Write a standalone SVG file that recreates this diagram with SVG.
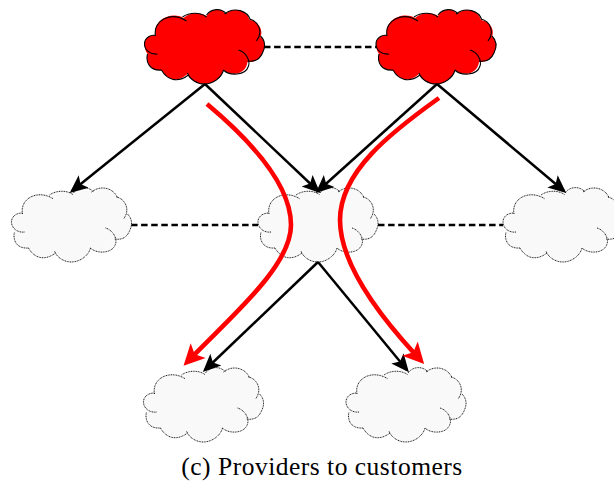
<svg xmlns="http://www.w3.org/2000/svg" xmlns:xlink="http://www.w3.org/1999/xlink" width="614" height="484" viewBox="0 0 614 484">
<style>
.edge{fill:none;stroke:#000;stroke-width:2.5}
.dash{fill:none;stroke:#000;stroke-width:2.5;stroke-dasharray:6.5 3.6}
.flow{fill:none;stroke:#f00;stroke-width:4.6}
.fillred{fill:#f00;stroke:none}
.fillgray{fill:#f9f9f9;stroke:none}
.linered{fill:none;stroke:#000;stroke-width:1.1}
.linegray{fill:none;stroke:#000;stroke-width:.9;stroke-dasharray:1 .7}
text{font-family:"Liberation Serif","Times New Roman",serif;font-size:25.5px;letter-spacing:.5px;fill:#000}
</style>
<defs>
<path id="outline" d="M-60,-3C-60,-8 -56,-12 -49,-12C-52,-27 -33,-36 -21,-29C-15,-35 -4,-35 2,-31C7,-39 17,-39 21,-33C30,-41 43,-36 45,-27C54,-26 59,-17 56,-10C61,-6 61,0 58,6C55,13 50,15 43,15C41,29 25,29 19,23C17,31 8,37 0,37C-8,37 -15,32 -17,27C-28,37 -38,32 -43,23C-55,24 -59,15 -57,7C-59,4 -60,1 -60,-3Z"/>
<path id="curls" d="M-47,7C-54,8 -60,3 -60,-3C-60,-8 -56,-12 -49,-12M-49,-11C-52,-27 -33,-36 -18,-26M-22,-30C-15,-35 -4,-35 2,-30M2,-32C7,-39 17,-39 22,-33M20,-33C30,-41 43,-36 46,-27M45,-28C54,-26 59,-15 52,-6M56,-11C61,-6 61,0 58,6C55,13 50,15 43,14M34,3C41,5 46,13 44,19C41,29 25,29 19,23M19,23C17,31 8,37 0,37C-8,37 -15,32 -17,26M-16,28C-28,37 -38,32 -43,23M-43,23C-55,24 -59,15 -57,7"/>
<marker id="black" markerUnits="userSpaceOnUse" markerWidth="20" markerHeight="18" viewBox="0 -9 20 18" refX="15" refY="0" orient="auto"><path d="M0,-8 L18,0 L0,8 L4,0Z" fill="#000"/></marker>
<marker id="red" markerUnits="userSpaceOnUse" markerWidth="24" markerHeight="24" viewBox="0 -12 24 24" refX="6" refY="0" orient="auto"><path d="M0,-10.5 L21,0 L0,10.5 L5,0Z" fill="#f00"/></marker>
</defs>
<g id="connectors">
<path class="dash" d="M264,47H377"/>
<path class="dash" d="M131,225H258"/>
<path class="dash" d="M378,225H503"/>
</g>
<g id="provider-1"><use href="#outline" class="fillred" x="204.5" y="47"/><use href="#curls" class="linered" x="204.5" y="47"/></g>
<g id="provider-2"><use href="#outline" class="fillred" x="436" y="47"/><use href="#curls" class="linered" x="436" y="47"/></g>
<g id="peer-1"><use href="#outline" class="fillgray" x="71.5" y="225"/><use href="#curls" class="linegray" x="71.5" y="225"/></g>
<g id="peer-2"><use href="#outline" class="fillgray" x="318" y="225"/><use href="#curls" class="linegray" x="318" y="225"/></g>
<g id="peer-3"><use href="#outline" class="fillgray" x="563" y="225"/><use href="#curls" class="linegray" x="563" y="225"/></g>
<g id="customer-1"><use href="#outline" class="fillgray" x="203.5" y="405"/><use href="#curls" class="linegray" x="203.5" y="405"/></g>
<g id="customer-2"><use href="#outline" class="fillgray" x="406" y="405"/><use href="#curls" class="linegray" x="406" y="405"/></g>
<g id="arrows">
<path class="edge" marker-end="url(#black)" d="M205,84L72,191"/>
<path class="edge" marker-end="url(#black)" d="M205,84L318,191"/>
<path class="edge" marker-end="url(#black)" d="M437,84L318,191"/>
<path class="edge" marker-end="url(#black)" d="M437,84L564,191"/>
<path class="edge" marker-end="url(#black)" d="M318,262L205,370"/>
<path class="edge" marker-end="url(#black)" d="M318,262L407,370"/>
<path class="flow" marker-end="url(#red)" d="M207,104C250,140 291,185 291,225C291,265 235,313 194,355"/>
<path class="flow" marker-end="url(#red)" d="M439,98C390,133 340,172 340,220C340,265 382,318 414,353"/>
</g>
<text id="caption" x="322" y="475" text-anchor="middle">(c) Providers to customers</text>
</svg>
